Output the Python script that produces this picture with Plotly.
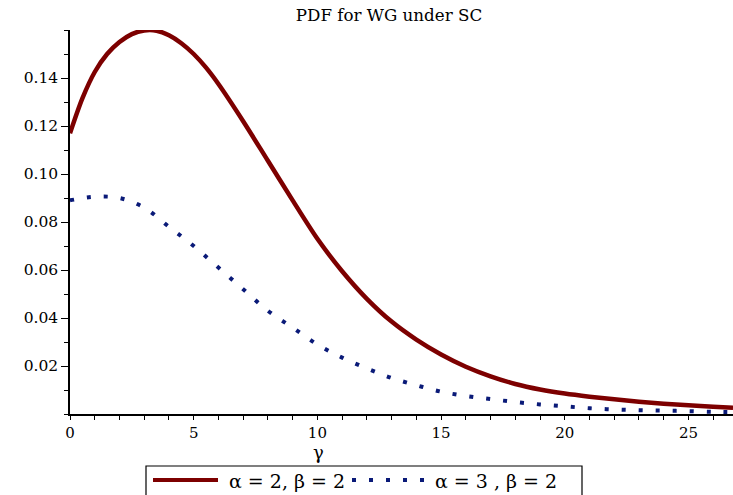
import plotly.graph_objects as go

# Series 1: alpha=2, beta=2 (solid dark red)
x_red = [0, 0.5, 1, 1.5, 2, 2.5, 3, 3.5, 4, 4.5, 5, 5.5, 6, 7, 8, 9, 10, 11, 12, 13, 14, 15,
         16, 17, 18, 19, 20, 21, 22, 23, 24, 25, 26, 26.8]
y_red = [0.117, 0.1315, 0.1425, 0.1500, 0.1550, 0.1583, 0.1598, 0.1597, 0.1578, 0.1545,
         0.1500, 0.1443, 0.1375, 0.1220, 0.1055, 0.0890, 0.0730, 0.0595, 0.0480, 0.0385,
         0.0310, 0.0248, 0.0197, 0.0157, 0.0125, 0.0102, 0.0085, 0.0072, 0.0061, 0.0051,
         0.0043, 0.0036, 0.0030, 0.0026]

# Series 2: alpha=3, beta=2 (dotted navy)
x_blue = [0, 1, 2, 3, 4, 5, 6, 7, 8, 9, 10, 11, 12, 13, 14, 15, 16, 17, 18, 19, 20,
          21, 22, 23, 24, 25, 26, 26.8]
y_blue = [0.089, 0.0905, 0.090, 0.086, 0.078, 0.070, 0.061, 0.052, 0.043, 0.036, 0.029,
          0.0235, 0.019, 0.015, 0.012, 0.0093, 0.0075, 0.0062, 0.0050, 0.0040, 0.0032,
          0.0024, 0.0019, 0.0016, 0.0014, 0.0012, 0.0009, 0.0008]

legend_labels = ["α = 2, β = 2", "α = 3 , β = 2"]
red = "#7d0000"
blue = "#0a1a78"

serif = "DejaVu Serif, Liberation Serif, serif"

# plot-area pixel frame (for placing the legend box below the axes)
L, R, T, B = 70, 733, 30, 414
W, H = R - L, B - T


def px(xp):
    return (xp - L) / W


def py(yp):
    return (B - yp) / H


fig = go.Figure()
fig.add_trace(go.Scatter(
    x=x_red, y=y_red, mode="lines", name=legend_labels[0],
    line=dict(color=red, width=4.5, shape="spline", smoothing=0.8),
))
fig.add_trace(go.Scatter(
    x=x_blue, y=y_blue, mode="lines", name=legend_labels[1],
    line=dict(color=blue, width=4, shape="spline", dash="4px,13px"),
))

shapes = [
    dict(type="rect", xref="paper", yref="paper", x0=px(146), x1=px(582),
         y0=py(466), y1=py(505), line=dict(color="black", width=1.2),
         fillcolor="white", layer="above"),
    dict(type="line", xref="paper", yref="paper", x0=px(153), x1=px(218),
         y0=py(480), y1=py(480), line=dict(color=red, width=4)),
    dict(type="line", xref="paper", yref="paper", x0=px(352), x1=px(428),
         y0=py(480), y1=py(480), line=dict(color=blue, width=4, dash="4px,13px")),
]

annotations = [
    dict(text="γ", xref="paper", yref="paper", x=px(318), y=py(452),
         xanchor="center", yanchor="middle", showarrow=False,
         font=dict(family=serif, size=18, color="black")),
    dict(text=legend_labels[0], xref="paper", yref="paper", x=px(227), y=py(481),
         xanchor="left", yanchor="middle", showarrow=False,
         font=dict(family=serif, size=19, color="black")),
    dict(text=legend_labels[1], xref="paper", yref="paper", x=px(433), y=py(481),
         xanchor="left", yanchor="middle", showarrow=False,
         font=dict(family=serif, size=19, color="black")),
]

fig.update_layout(
    width=733, height=495,
    margin=dict(l=L, r=733 - R, t=T, b=495 - B, autoexpand=False),
    paper_bgcolor="white", plot_bgcolor="white",
    title=dict(text="PDF for WG under SC", x=389 / 733, xanchor="center",
               y=1 - 15 / 495, yanchor="middle",
               font=dict(family=serif, size=16.7, color="black")),
    showlegend=False,
    shapes=shapes,
    annotations=annotations,
    xaxis=dict(range=[0, 26.8], showgrid=False, zeroline=False,
               showline=True, linecolor="black", linewidth=1.5,
               ticks="outside", ticklen=4, tickcolor="black", dtick=5, tick0=0,
               minor=dict(dtick=1, ticks="outside", ticklen=4, tickcolor="black"),
               tickfont=dict(family=serif, size=15, color="black")),
    yaxis=dict(range=[0, 0.16], showgrid=False, zeroline=False,
               showline=True, linecolor="black", linewidth=1.5,
               ticks="outside", ticklen=7, tickcolor="black",
               tickvals=[0.02, 0.04, 0.06, 0.08, 0.10, 0.12, 0.14],
               ticktext=["0.02", "0.04", "0.06", "0.08", "0.10", "0.12", "0.14"],
               minor=dict(dtick=0.01, ticks="outside", ticklen=4, tickcolor="black"),
               tickfont=dict(family=serif, size=15.5, color="black")),
)

fig.write_html("out.html")
